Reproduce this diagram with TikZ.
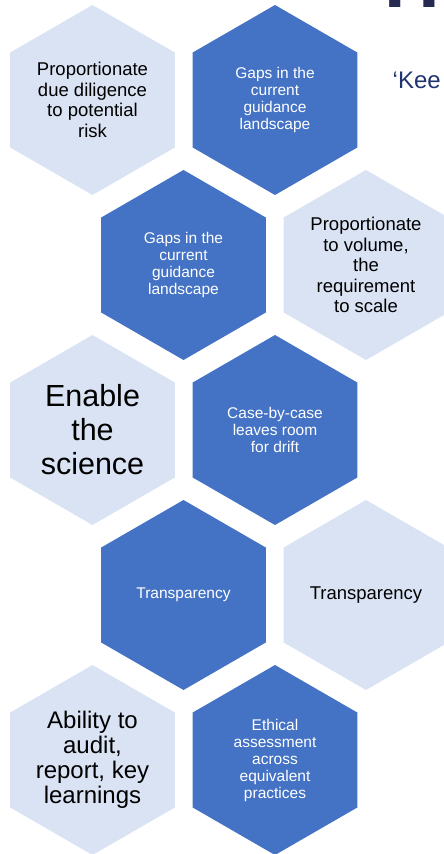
\documentclass[tikz,border=0pt]{standalone}
\usepackage{fontspec}
\setmainfont{Liberation Sans}
\usetikzlibrary{shapes.geometric}
\definecolor{hexlight}{HTML}{DAE3F3}
\definecolor{hexdark}{HTML}{4472C4}
\definecolor{navy}{HTML}{1F3470}
\definecolor{titlenavy}{HTML}{262A50}
\tikzset{
  hexa/.style={regular polygon, regular polygon sides=6, shape border rotate=30,
    minimum size=190pt, inner sep=0pt, outer sep=0pt, align=center, draw=none},
  hexlt/.style={hexa, fill=hexlight, text=black, font=\fontsize{18.5}{20.5}\selectfont},
  hexdk/.style={hexa, fill=hexdark, text=white, font=\fontsize{15.5}{17}\selectfont},
  bigtxt/.style={font=\fontsize{30.5}{34}\selectfont},
  midtxt/.style={font=\fontsize{24}{25}\selectfont},
}
\begin{document}
\begin{tikzpicture}[x=1pt,y=-1pt]
\useasboundingbox (0,0) rectangle (444,854);
\clip (0,0) rectangle (444,854);
\node[hexlt] (h1) at (92.5,100) {Proportionate\\due diligence\\to potential\\risk};
\node[hexdk] (h2) at (275,100) {Gaps in the\\current\\guidance\\landscape};
\node[hexdk] (h3) at (183.5,265) {Gaps in the\\current\\guidance\\landscape};
\node[hexlt] (h4) at (366,265) {Proportionate\\to volume,\\the\\requirement\\to scale};
\node[hexlt,bigtxt] (h5) at (92.5,430) {Enable\\the\\science};
\node[hexdk] (h6) at (275,430) {Case-by-case\\leaves room\\for drift};
\node[hexdk] (h7) at (183.5,595) {Transparency};
\node[hexlt] (h8) at (366,595) {Transparency};
\node[hexlt,midtxt] (h9) at (92.5,760) {Ability to\\audit,\\report, key\\learnings};
\node[hexdk] (h10) at (275,760) {Ethical\\assessment\\across\\equivalent\\practices};
\node[anchor=base west, inner sep=0pt, text=navy, font=\fontsize{24}{26}\selectfont] (quote) at (392.5,88) {‘Kee};
\node[anchor=base west, inner sep=0pt, text=titlenavy, font=\fontsize{77}{80}\bfseries\selectfont] (title) at (384.5,7.5) {H};
\end{tikzpicture}
\end{document}
